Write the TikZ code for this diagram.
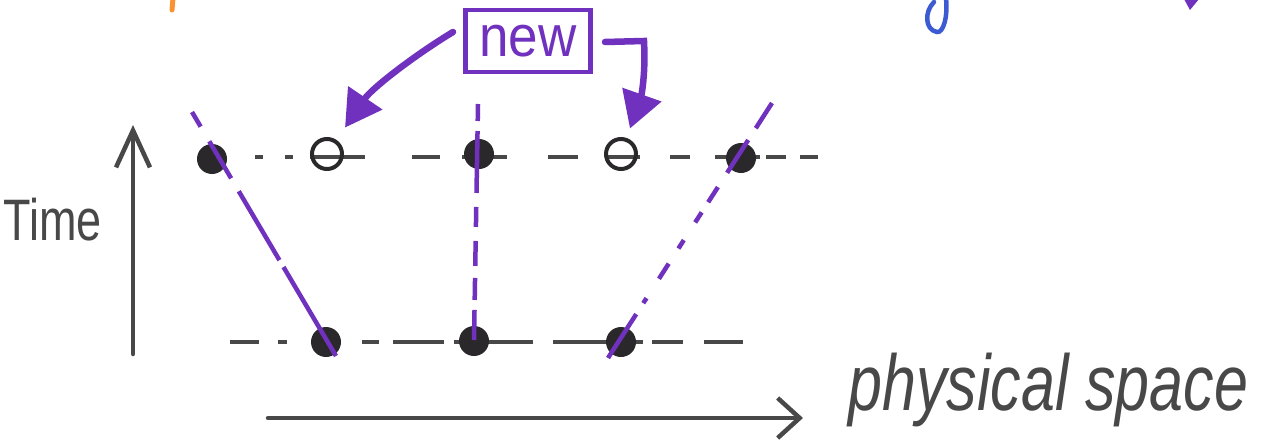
\documentclass[tikz,border=0pt]{standalone}
\usepackage{fontspec}
\setmainfont{Liberation Sans}
\usetikzlibrary{arrows.meta}
\definecolor{ink}{RGB}{72,72,72}
\definecolor{dotink}{RGB}{42,40,42}
\definecolor{purp}{RGB}{112,50,190}
\definecolor{bluepen}{RGB}{60,90,210}
\definecolor{orangepen}{RGB}{250,145,50}
\tikzset{
  handtext/.style={inner sep=0pt, text=ink},
  dot/.style={circle, fill=dotink, inner sep=0pt, minimum size=30pt},
  ring/.style={circle, draw=dotink, line width=4pt, inner sep=0pt, minimum size=30pt},
  axis/.style={ink, line width=4.5pt, line cap=round},
  slice/.style={ink, line width=4.2pt},
  world/.style={purp, line width=4.5pt},
  pointer/.style={purp, line width=6.5pt, line cap=round,
    -{Triangle[length=36pt,width=40pt]}},
}
\begin{document}
\begin{tikzpicture}[x=1pt,y=-1pt]
\useasboundingbox (0,0) rectangle (1274,439);

% pen strokes running in from above the sheet
\draw[orangepen, line width=5pt, line cap=round] (173,-2) -- (172,10);
\draw[bluepen, line width=4.5pt, line cap=round]
  (946,-2) .. controls (948,18) and (943,33) .. (937,32)
  .. controls (925,30) and (924,12) .. (934,2);
\fill[purp] (1184,-1) -- (1199,-1) -- (1190,10) -- cycle;

% axes
\coordinate (tbot) at (133,354);
\coordinate (ttop) at (133,125);
\draw[axis, -{Straight Barb[length=37pt,width=34pt]}] (tbot) -- (ttop);
\node[handtext, anchor=base west] (tlabel) at (3,240)
  {\scalebox{1}[1.3]{\fontsize{45}{50}\selectfont Time}};

\coordinate (xl) at (268,418);
\coordinate (xr) at (803,418);
\draw[axis, -{Straight Barb[length=22pt,width=40pt]}] (xl) -- (xr);
\node[handtext, anchor=base west] (xlabel) at (848,410)
  {\scalebox{1}[1.3]{\fontsize{61}{66}\selectfont\itshape physical space}};

% time slices
\coordinate (s1a) at (255,157);
\coordinate (s1b) at (818,157);
\draw[slice, dash pattern=on 8pt off 22pt on 8pt off 17pt on 55pt off 47pt
  on 28pt off 22pt on 45pt off 41pt on 30pt off 27pt on 35pt off 30pt
  on 20pt off 25pt on 45pt off 6pt on 20pt off 14pt on 18pt] (s1a) -- (s1b);
\coordinate (s0a) at (230,342);
\coordinate (s0b) at (743,342);
\draw[slice, dash pattern=on 29pt off 19pt on 9pt off 75pt on 17pt off 14pt
  on 51pt off 10pt on 79pt off 20pt on 90pt off 9pt on 31pt off 21pt on 39pt]
  (s0a) -- (s0b);

% points on the slices
\node[dot]  (t1) at (212,159) {};
\node[ring] (t2) at (327,154) {};
\node[dot]  (t3) at (479,154) {};
\node[ring] (t4) at (621,154) {};
\node[dot]  (t5) at (741,158) {};
\node[dot]  (b1) at (326,342) {};
\node[dot]  (b2) at (474,341) {};
\node[dot]  (b3) at (621,342) {};

% world lines through the points
\coordinate (w1a) at (192,112);
\coordinate (w1b) at (336,356);
\draw[world, dash pattern=on 17pt off 17pt on 43pt off 15pt on 80pt off 8pt on 200pt]
  (w1a) -- (w1b);
\coordinate (w2a) at (478,104);
\coordinate (w2b) at (474,340);
\draw[world, dash pattern=on 17pt off 10pt on 62pt off 14pt on 20pt off 14pt
  on 25pt off 12pt on 22pt off 10pt on 60pt] (w2a) -- (w2b);
\coordinate (w3a) at (772,103);
\coordinate (w3b) at (608,358);
\draw[world, dash pattern=on 30pt off 14pt on 39pt off 17pt on 18pt off 12pt
  on 12pt off 21pt on 10pt off 18pt on 18pt off 23pt on 6pt off 13pt on 60pt]
  (w3a) -- (w3b);

% label for the newly created points
\node[draw=purp, line width=4.5pt, minimum width=125pt, minimum height=62pt,
  inner sep=0pt, text=purp] (newbox) at (528,41)
  {\raisebox{-6pt}{\scalebox{1}[1.1]{\fontsize{53}{56}\selectfont new}}};
\coordinate (la) at (453,32);
\draw[pointer, shorten >=15pt] (la) .. controls (415,55) and (372,88) .. (t2);
\coordinate (ra) at (605,42);
\draw[pointer, shorten >=10pt] (ra) -- (644,41)
  .. controls (646,80) and (640,100) .. (t4);
\end{tikzpicture}
\end{document}
